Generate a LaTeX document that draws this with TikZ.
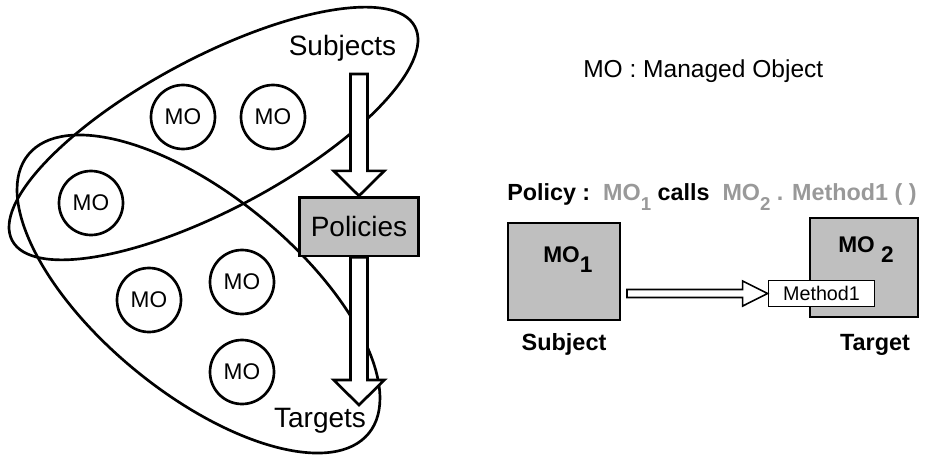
\documentclass[tikz,border=0pt]{standalone}
\usepackage{fontspec}
\setmainfont{Liberation Sans}
\usetikzlibrary{calc}

\definecolor{boxgray}{gray}{0.75}
\definecolor{labelgray}{gray}{0.6}

\tikzset{
  setline/.style={line width=2pt},
  mo/.style={circle, draw, line width=2pt, minimum size=48pt, inner sep=0pt,
    font=\fontsize{17}{17}\selectfont},
  fatarrow/.style={draw, fill=white, line width=2pt, line join=miter},
  obj/.style={draw, fill=boxgray, line width=1.2pt, inner sep=0pt},
  lbl/.style={inner sep=0pt},
}

% lowered index digit
\newcommand\lowsub[1]{\raisebox{-8pt}{\fontsize{14}{14}\selectfont #1}}

% hollow block arrows between two points
\newcommand\fatdown[2]{%
  \draw[fatarrow] let \p1=(#1), \p2=(#2) in
    (\x1-6.4pt,\y1) -- (\x1+6.4pt,\y1) -- (\x1+6.4pt,\y2+18.75pt) -- (\x1+19pt,\y2+18.75pt)
    -- (\x1,\y2) -- (\x1-19pt,\y2+18.75pt) -- (\x1-6.4pt,\y2+18.75pt) -- cycle;}
\newcommand\fatright[2]{%
  \draw[fatarrow, line width=1.2pt] let \p1=(#1), \p2=(#2) in
    (\x1,\y1+3pt) -- (\x2-18.75pt,\y1+3pt) -- (\x2-18.75pt,\y1+9.4pt)
    -- (\x2,\y1) -- (\x2-18.75pt,\y1-9.4pt) -- (\x2-18.75pt,\y1-3pt) -- (\x1,\y1-3pt) -- cycle;}

\begin{document}
\begin{tikzpicture}[x=0.75pt, y=0.75pt]
  \useasboundingbox (0,0) rectangle (931,455);

  % the two sets
  \draw[setline] (213.5,321.5) ellipse [x radius=228, y radius=76, rotate=28];
  \draw[setline] (198.5,161) ellipse [x radius=220, y radius=99, rotate=-39.3];

  % managed objects
  \node[mo] (mo1) at (183,338) {MO};
  \node[mo] (mo2) at (273,338) {MO};
  \node[mo] (mo3) at (91,252) {MO};
  \node[mo] (mo4) at (149,155) {MO};
  \node[mo] (mo5) at (242,173) {MO};
  \node[mo] (mo6) at (242,83) {MO};

  \node[lbl, anchor=base, font=\fontsize{21}{21}\selectfont] (subj) at (342.5,400) {Subjects};
  \node[lbl, anchor=base, font=\fontsize{21}{21}\selectfont] (targ) at (320,28) {Targets};

  % policies between them
  \node[obj, line width=2pt, minimum width=89pt, minimum height=44pt,
    font=\fontsize{21}{21}\selectfont] (pol) at (359,228.5) {Policies};
  \coordinate (subjarrow) at (359,381);
  \coordinate (targarrow) at (359,50);
  \fatdown{subjarrow}{pol.north}
  \fatdown{pol.south}{targarrow}

  % right hand side
  \node[lbl, anchor=base west, font=\fontsize{18.4}{18.4}\selectfont] (legend) at (583,378)
    {MO : Managed Object};
  \node[lbl, anchor=base west, font=\bfseries\fontsize{17.5}{17.5}\selectfont] (rule) at (507,255)
    {Policy :\ \ {\color{labelgray}MO\lowsub{1}}\ calls\ \ {\color{labelgray}MO\lowsub{2} . Method1 ( )}};

  \node[obj, minimum width=84pt, minimum height=72.75pt] (subjbox) at (564,183.5) {};
  \node[obj, minimum width=81pt, minimum height=74pt] (targbox) at (864,187.5) {};
  \node[lbl, anchor=base west, font=\bfseries\fontsize{17}{17}\selectfont] at (543,193) {MO\raisebox{-7.5pt}{1}};
  \node[lbl, anchor=base west, font=\bfseries\fontsize{17}{17}\selectfont] at (838,203) {MO \raisebox{-8pt}{2}};
  \node[draw, fill=white, line width=0.8pt, minimum width=80pt, minimum height=20pt, inner sep=0pt,
    font=\fontsize{14.8}{14.8}\selectfont] (meth) at (821.5,161.5) {Method1};
  \coordinate (callfrom) at (627,161.5);
  \fatright{callfrom}{meth.west}

  \node[lbl, anchor=base, font=\bfseries\fontsize{17.6}{17.6}\selectfont] at (564,105) {Subject};
  \node[lbl, anchor=base, font=\bfseries\fontsize{17.6}{17.6}\selectfont] at (875,105) {Target};
\end{tikzpicture}
\end{document}
